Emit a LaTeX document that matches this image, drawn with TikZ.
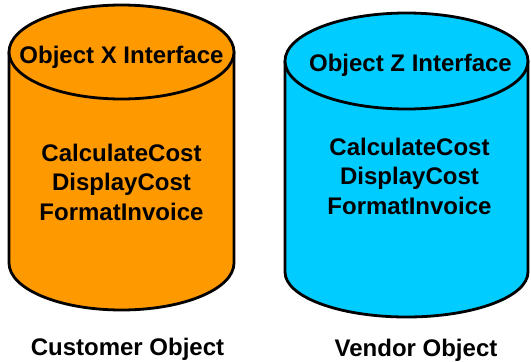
\documentclass[tikz,border=0pt]{standalone}
\usepackage{fontspec}
\setmainfont{Liberation Sans}
\definecolor{objorange}{HTML}{FF9900}
\definecolor{objcyan}{HTML}{00CCFF}
\begin{document}
\begin{tikzpicture}[x=1pt,y=-1pt,line width=2.8pt,line join=round,
    lbl/.style={font=\bfseries\fontsize{24}{29.5}\selectfont,align=center,anchor=base,inner sep=0pt}]
    \useasboundingbox (0,0) rectangle (531,362);

    \coordinate (xtop) at (121.5,52);
    \filldraw[fill=objorange] (9,52) -- (9,263) arc[start angle=180,end angle=0,x radius=112.5,y radius=47] -- (234,52) -- cycle;
    \filldraw[fill=objorange] (xtop) ellipse[x radius=112.5,y radius=47];
    \node[lbl] (xiface) at (121.5,63) {Object X Interface};
    \node[lbl] (xmethods) at (121.5,220) {CalculateCost\\DisplayCost\\FormatInvoice};
    \node[lbl] (xname) at (127.5,355) {Customer Object};

    \coordinate (ztop) at (406.5,61);
    \filldraw[fill=objcyan] (285,61) -- (285,272) arc[start angle=180,end angle=0,x radius=121.5,y radius=45] -- (528,61) -- cycle;
    \filldraw[fill=objcyan] (ztop) ellipse[x radius=121.5,y radius=48];
    \node[lbl] (ziface) at (410.5,71) {Object Z Interface};
    \node[lbl] (zmethods) at (409.5,214) {CalculateCost\\DisplayCost\\FormatInvoice};
    \node[lbl] (zname) at (416,356) {Vendor Object};

\end{tikzpicture}
\end{document}
